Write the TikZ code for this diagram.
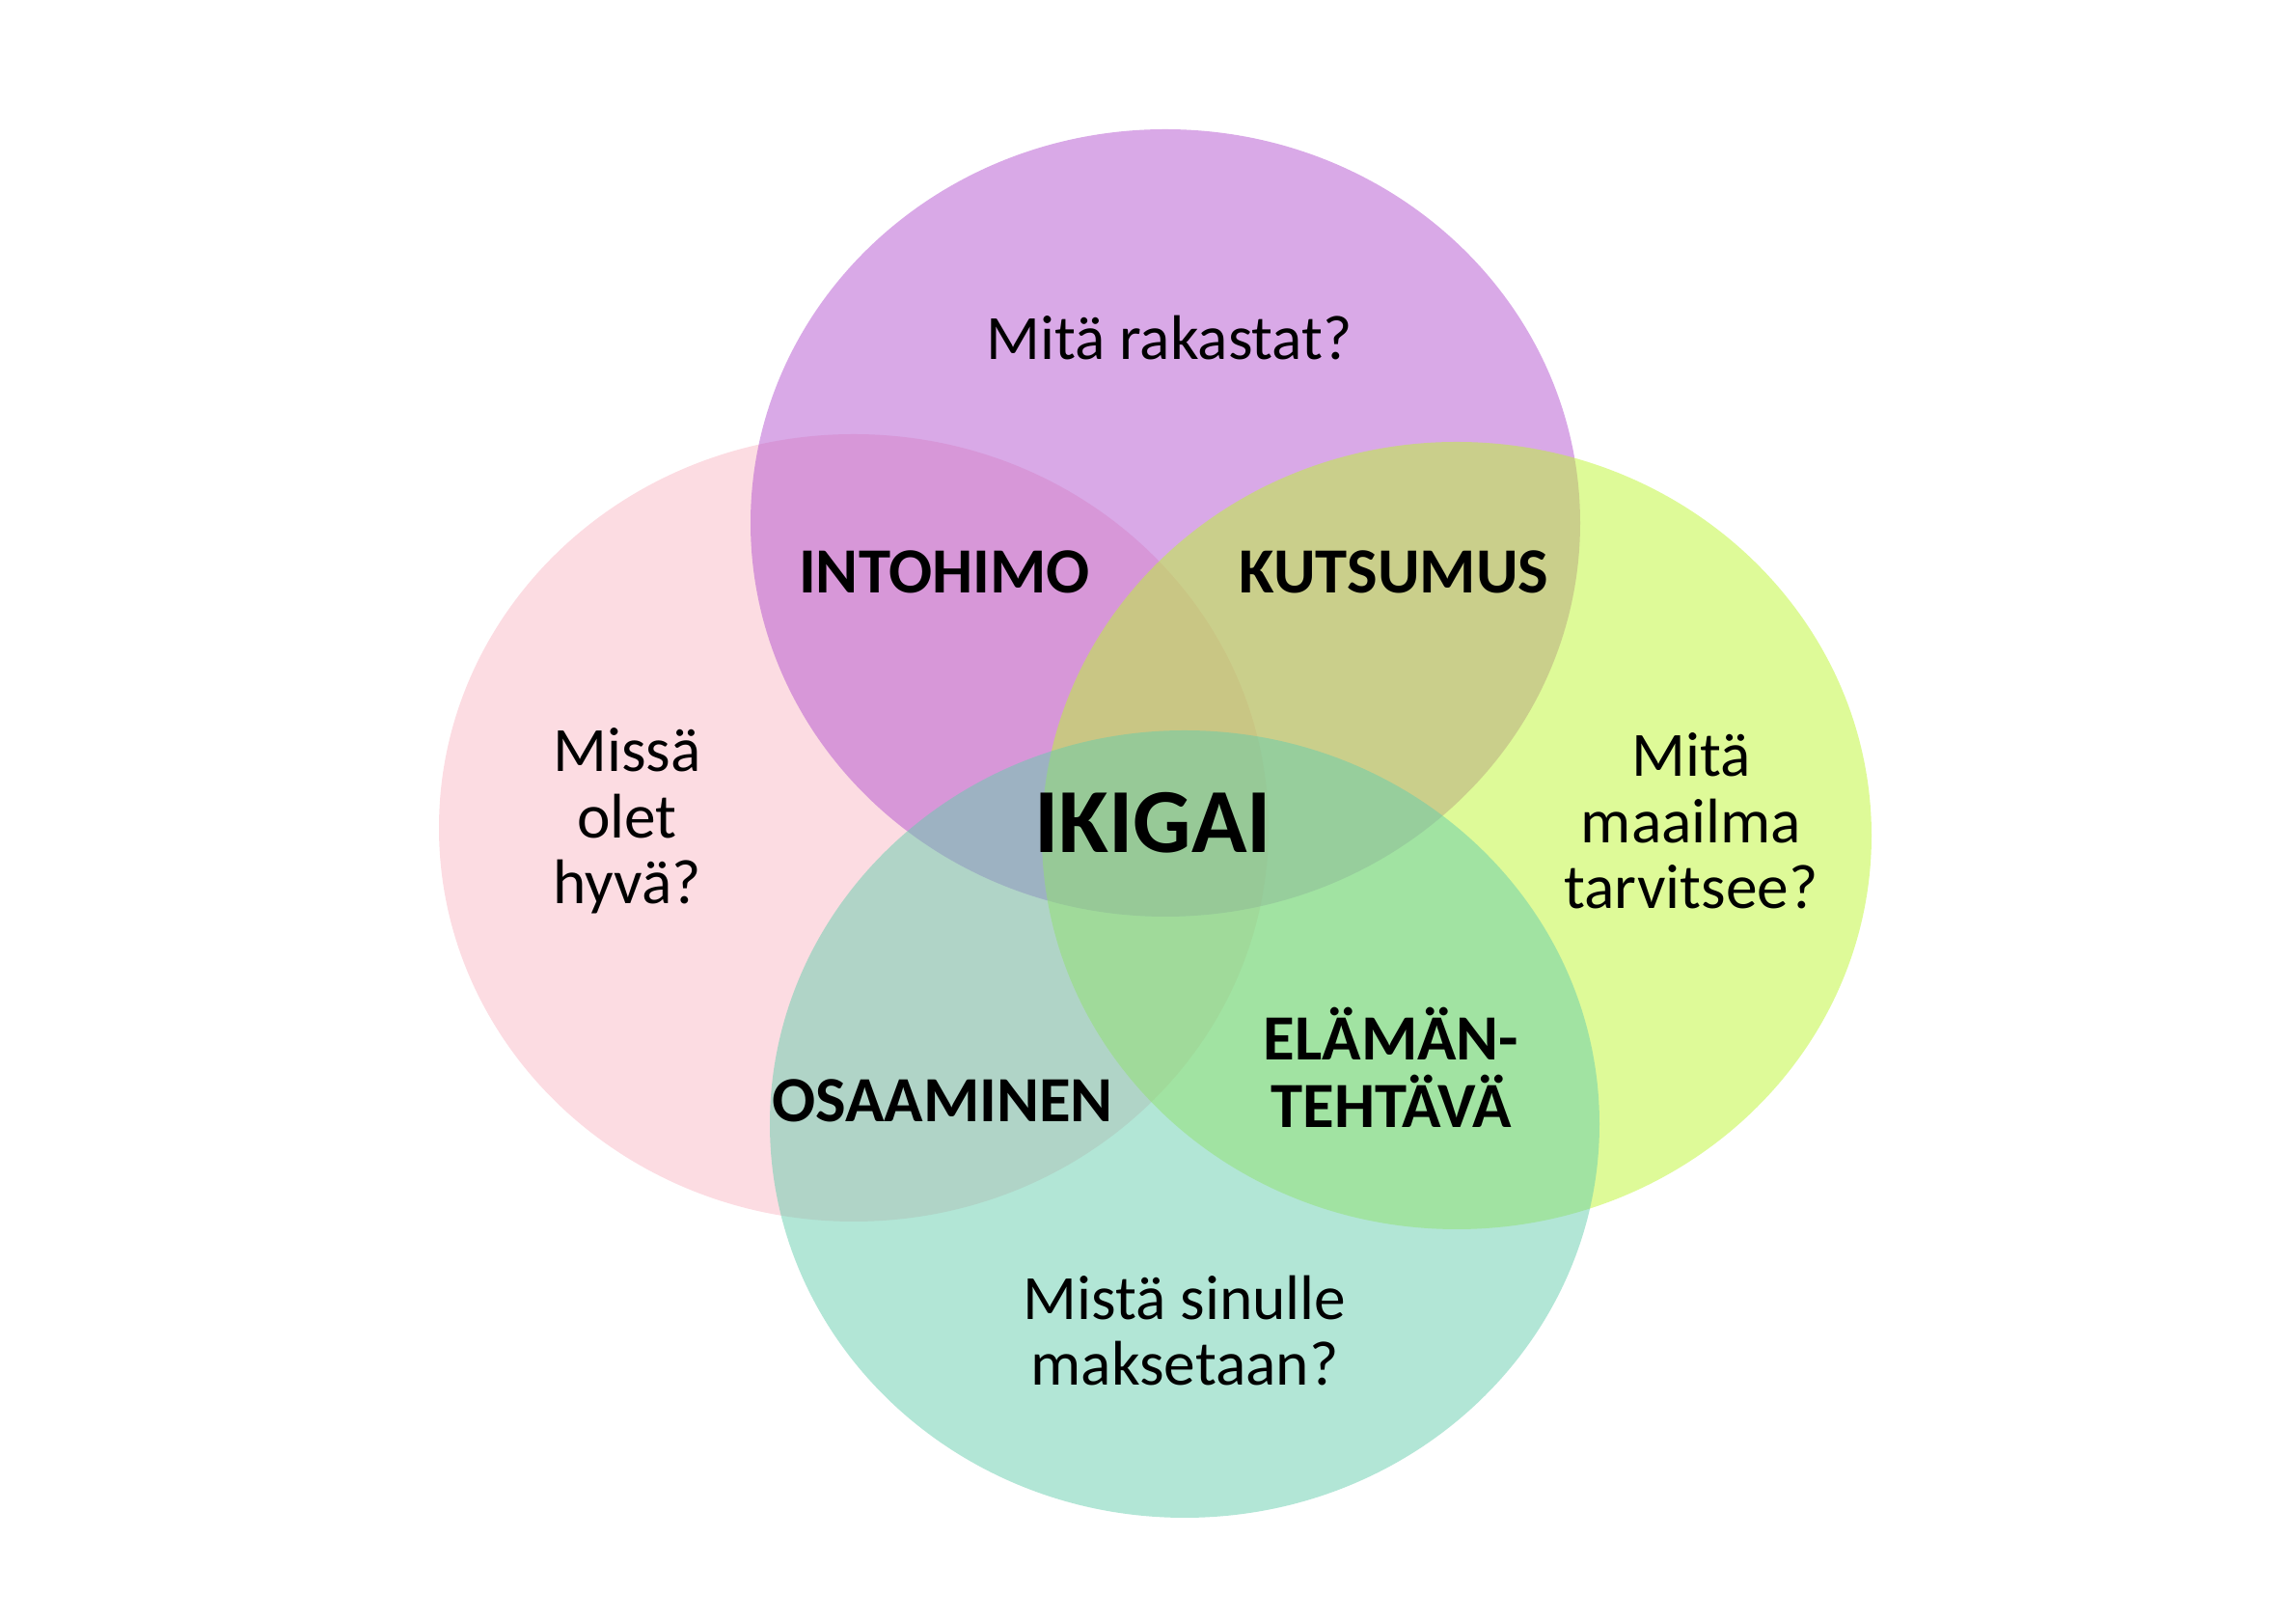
\documentclass[tikz,border=0pt]{standalone}
\usepackage{fontspec}
\setmainfont{Carlito}
\usepackage{tikz}
\definecolor{pinkC}{RGB}{249,185,197}
\definecolor{purpleC}{RGB}{179,83,207}
\definecolor{greenC}{RGB}{189,245,49}
\definecolor{tealC}{RGB}{101,205,173}
\begin{document}
\begin{tikzpicture}[
	blob/.style={fill opacity=0.5},
	question/.style={align=center, font=\fontsize{18.6}{19.5}\selectfont, text=black},
	overlap/.style={align=center, font=\fontsize{19}{20}\selectfont\bfseries, text=black},
	centre/.style={font=\fontsize{27}{28}\selectfont\bfseries, text=black}]
	\useasboundingbox (0,0) rectangle (23.8,16.8);
	% four circles, drawn in this order
	\fill[blob, pinkC] (8.85,8.22) ellipse [x radius=4.3, y radius=4.08];
	\fill[blob, purpleC] (12.08,11.38) ellipse [x radius=4.3, y radius=4.08];
	\fill[blob, greenC] (15.10,8.14) ellipse [x radius=4.3, y radius=4.08];
	\fill[blob, tealC] (12.28,5.15) ellipse [x radius=4.3, y radius=4.08];
	% texts
	\node[question] (love) at (12.12,13.30) {Mitä rakastat?};
	\node[question] (good) at (6.50,8.29) {Missä\\olet\\hyvä?};
	\node[question] (need) at (17.53,8.29) {Mitä\\maailma\\tarvitsee?};
	\node[question] (paid) at (12.28,3.01) {Mistä sinulle\\maksetaan?};
	\node[overlap] (passion) at (9.79,10.87) {INTOHIMO};
	\node[overlap] (vocation) at (14.45,10.87) {KUTSUMUS};
	\node[overlap] (profession) at (9.77,5.39) {OSAAMINEN};
	\node[overlap] (mission) at (14.42,5.74) {ELÄMÄN-\\TEHTÄVÄ};
	\node[centre] (ikigai) at (11.95,8.27) {IKIGAI};
\end{tikzpicture}
\end{document}
